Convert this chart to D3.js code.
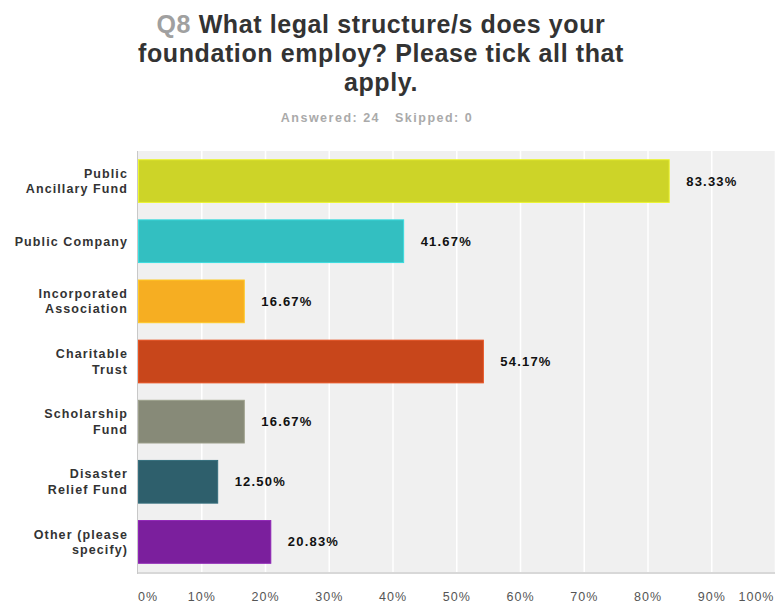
<!DOCTYPE html>
<html>
<head>
<meta charset="utf-8">
<script src="https://cdn.jsdelivr.net/npm/d3@7"></script>
<style>
  body { margin: 0; background: #fff; }
  text { font-family: "Liberation Sans", Arial, sans-serif; }
</style>
</head>
<body>
<div id="chart"></div>
<script>
// data
const categories = [
  ["Public", "Ancillary Fund"],
  ["Public Company"],
  ["Incorporated", "Association"],
  ["Charitable", "Trust"],
  ["Scholarship", "Fund"],
  ["Disaster", "Relief Fund"],
  ["Other (please", "specify)"]
];
const values = [83.33, 41.67, 16.67, 54.17, 16.67, 12.50, 20.83];
const colors = ["#cdd428", "#33bfc1", "#f6ae22", "#c8461b", "#878a78", "#2e5f6c", "#7b1f9d"];
const ticks = [0, 10, 20, 30, 40, 50, 60, 70, 80, 90, 100];
const titleLines = ["What legal structure/s does your", "foundation employ? Please tick all that", "apply."];

const W = 775, H = 603;
const margin = {top: 151, right: 0, bottom: 30, left: 138};
const width = W - margin.left - margin.right + 0.5,
  height = 572 - margin.top;

const svg = d3.select("#chart").append("svg")
  .attr("width", W)
  .attr("height", H);

// title
const title = svg.append("text")
  .attr("text-anchor", "middle")
  .attr("font-size", 25)
  .attr("font-weight", "bold")
  .attr("letter-spacing", 0.6)
  .attr("fill", "#333");
titleLines.forEach(function(line, i) {
  const t = title.append("tspan").attr("x", 381).attr("y", 33 + i * 29);
  if (i === 0) {
    t.append("tspan").attr("fill", "#a0a0a0").text("Q8 ");
    t.append("tspan").text(line);
  } else {
    t.text(line);
  }
});

svg.append("text")
  .attr("x", 377)
  .attr("y", 122)
  .attr("text-anchor", "middle")
  .attr("font-size", 12.5)
  .attr("font-weight", "bold")
  .attr("letter-spacing", 1.5)
  .attr("fill", "#aaa")
  .attr("xml:space", "preserve")
  .text("Answered: 24   Skipped: 0");

const g = svg.append("g")
  .attr("transform", `translate(${margin.left},${margin.top})`);

const x = d3.scaleLinear().domain([0, 100]).range([0, width]);
const y = d3.scaleBand().domain(d3.range(categories.length)).range([0, height]).paddingInner(0.29).paddingOuter(0.145);

g.append("rect")
  .attr("width", width)
  .attr("height", height)
  .attr("fill", "#f0f0f0");

// gridlines
g.append("g")
  .selectAll("line")
  .data(ticks.slice(1))
  .join("line")
    .attr("x1", d => x(d)).attr("x2", d => x(d))
    .attr("y1", 0).attr("y2", height)
    .attr("stroke", "#fff")
    .attr("stroke-width", 1.5);

// bars
g.append("g")
  .selectAll("rect")
  .data(values)
  .join("rect")
    .attr("x", 0.5)
    .attr("y", (d, i) => y(i))
    .attr("width", d => x(d) - 0.5)
    .attr("height", y.bandwidth())
    .attr("fill", (d, i) => colors[i])
    .attr("stroke", (d, i) => d3.color(colors[i]).brighter(0.4))
    .attr("stroke-width", 1);

// value labels
g.append("g")
  .selectAll("text")
  .data(values)
  .join("text")
    .attr("x", d => x(d) + 17)
    .attr("y", (d, i) => y(i) + y.bandwidth() / 2)
    .attr("dy", "0.35em")
    .attr("font-size", 13)
    .attr("font-weight", "bold")
    .attr("letter-spacing", 1.2)
    .attr("fill", "#111")
    .text(d => d.toFixed(2) + "%");

// axis lines
g.append("line")
  .attr("x1", 0).attr("x2", width)
  .attr("y1", height + 1).attr("y2", height + 1)
  .attr("stroke", "#d8d8d8").attr("stroke-width", 2);
g.append("line")
  .attr("x1", -0.5).attr("x2", -0.5)
  .attr("y1", 0).attr("y2", height + 2)
  .attr("stroke", "#c8c8c8").attr("stroke-width", 1);

// category labels
const cat = g.append("g")
  .selectAll("text")
  .data(categories)
  .join("text")
    .attr("text-anchor", "end")
    .attr("font-size", 12.5)
    .attr("font-weight", "bold")
    .attr("letter-spacing", 1.1)
    .attr("fill", "#333");
cat.each(function(lines, i) {
  const cy = y(i) + y.bandwidth() / 2;
  const lh = 15.5;
  d3.select(this).selectAll("tspan")
    .data(lines)
    .join("tspan")
      .attr("x", -10)
      .attr("y", (d, j) => cy + (j - (lines.length - 1) / 2) * lh)
      .attr("dy", "0.35em")
      .text(d => d);
});

// x tick labels
g.append("g")
  .selectAll("text")
  .data(ticks)
  .join("text")
    .attr("x", d => d === 0 ? 0 : (d === 100 ? width - 1 : x(d)))
    .attr("y", height + 29)
    .attr("text-anchor", d => d === 0 ? "start" : (d === 100 ? "end" : "middle"))
    .attr("font-size", 12.5)
    .attr("letter-spacing", 1)
    .attr("fill", "#555")
    .text(d => d + "%");
</script>
</body>
</html>
